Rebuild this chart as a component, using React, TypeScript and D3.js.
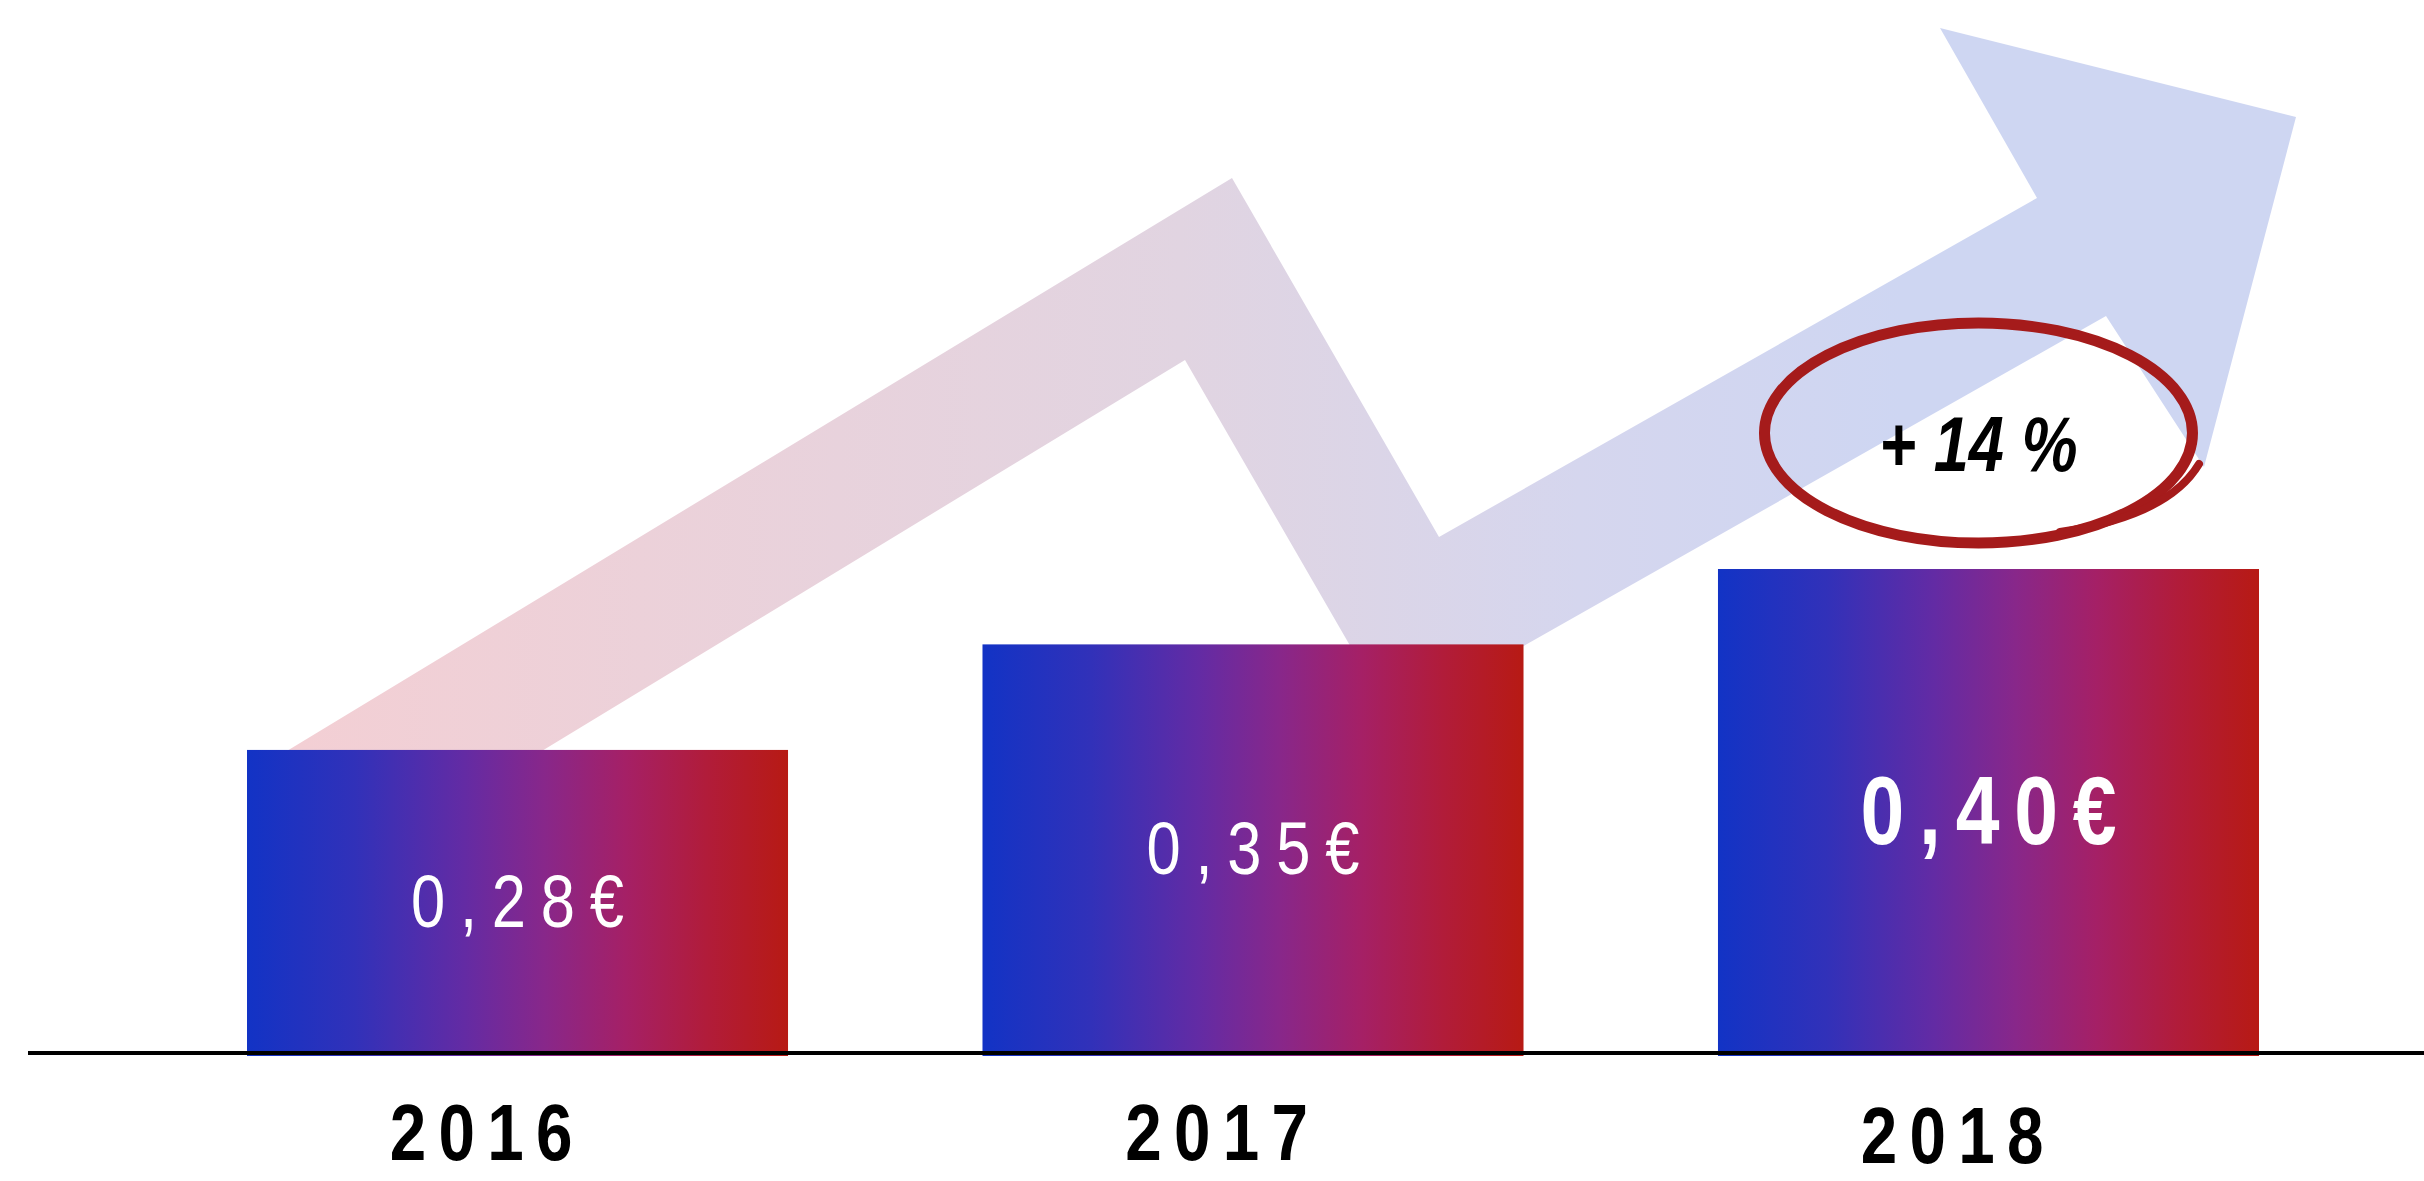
import React from 'react';
import * as d3 from 'd3';

// ---- data ----
const years: string[] = ['2016', '2017', '2018'];
const values: number[] = [0.28, 0.35, 0.4];
const valueLabels: string[] = ['0,28€', '0,35€', '0,40€'];
const growthLabel = '+ 14 %';

// ---- layout / style ----
const W = 2424;
const H = 1181;
const BASE_Y = 1053;
const FONT = '"Liberation Sans", Arial, sans-serif';
const NARROW = 0.82;
const valueFontSize = [75, 75, 96];
const valueWeight = [400, 400, 700];
const yearDy = [0, 0, 3];

// decorative trend arrow outline (pixel space)
const arrowOutline: [number, number][] = [
  [272, 760],
  [1232, 178],
  [1439, 537],
  [2037, 198],
  [1940, 28],
  [2296, 117],
  [2204, 467],
  [2106, 316],
  [1393, 720],
  [1185, 360],
  [527, 760],
];

export default function App() {
  const x = d3
    .scaleBand<string>()
    .domain(years)
    .range([247, 2259])
    .paddingInner(0.2644)
    .paddingOuter(0);
  const y = d3.scaleLinear().domain([0.079, 0.4]).range([BASE_Y, 569]);
  const bw = x.bandwidth();

  const arrowPath = (d3.line()(arrowOutline) || '') + 'Z';

  const last = years.length - 1;
  const lastCx = (x(years[last]) as number) + bw / 2;

  return (
    <svg
      width={W}
      height={H}
      viewBox={`0 0 ${W} ${H}`}
      style={{ position: 'absolute', left: 0, top: 0, display: 'block', background: '#fff' }}
    >
      <defs>
        <linearGradient id="barGrad" x1="0" y1="0" x2="1" y2="0">
          <stop offset="0%" stopColor="#1233c5" />
          <stop offset="20%" stopColor="#3131b9" />
          <stop offset="40%" stopColor="#632ba4" />
          <stop offset="55%" stopColor="#88278a" />
          <stop offset="70%" stopColor="#a52066" />
          <stop offset="85%" stopColor="#b11c3a" />
          <stop offset="100%" stopColor="#b71a14" />
        </linearGradient>
        <linearGradient id="arrowGrad" gradientUnits="userSpaceOnUse" x1="300" y1="0" x2="1900" y2="0">
          <stop offset="0%" stopColor="#f3cfd4" />
          <stop offset="55%" stopColor="#e1d4e1" />
          <stop offset="80%" stopColor="#d5d6ee" />
          <stop offset="100%" stopColor="#ced6f2" />
        </linearGradient>
      </defs>

      <rect x={0} y={0} width={W} height={H} fill="#fff" />

      {/* trend arrow */}
      <path d={arrowPath} fill="url(#arrowGrad)" />

      {/* bars */}
      {years.map((yr, i) => (
        <rect
          key={yr}
          x={x(yr)}
          y={y(values[i])}
          width={bw}
          height={BASE_Y + 3 - y(values[i])}
          fill="url(#barGrad)"
        />
      ))}

      {/* baseline */}
      <line x1={28} x2={W} y1={BASE_Y} y2={BASE_Y} stroke="#000" strokeWidth={4} />

      {/* value labels */}
      {years.map((yr, i) => {
        const cx = (x(yr) as number) + bw / 2;
        const cy = (y(values[i]) + BASE_Y) / 2;
        return (
          <g key={'v' + yr} transform={`translate(${cx},${cy}) scale(${NARROW},1)`}>
            <text
              textAnchor="middle"
              dominantBaseline="central"
              fill="#fff"
              fontFamily={FONT}
              fontSize={valueFontSize[i]}
              fontWeight={valueWeight[i]}
              letterSpacing={18}
              dx={9}
            >
              {valueLabels[i]}
            </text>
          </g>
        );
      })}

      {/* year labels */}
      {years.map((yr, i) => {
        const cx = (x(yr) as number) + bw / 2 - 36;
        return (
          <g key={'y' + yr} transform={`translate(${cx},${1160 + yearDy[i]}) scale(${NARROW},1)`}>
            <text
              textAnchor="middle"
              fill="#000"
              fontFamily={FONT}
              fontSize={80}
              fontWeight={700}
              letterSpacing={15}
              dx={7}
            >
              {yr}
            </text>
          </g>
        );
      })}

      {/* growth annotation */}
      <ellipse cx={lastCx - 10} cy={433} rx={214} ry={110} fill="none" stroke="#a51b1b" strokeWidth={11} />
      <path
        d="M 2199 464 Q 2168 516 2060 532"
        fill="none"
        stroke="#a51b1b"
        strokeWidth={8}
        strokeLinecap="round"
      />
      <g transform={`translate(${lastCx - 10},471) scale(${NARROW},1)`}>
        <text
          textAnchor="middle"
          fill="#000"
          fontFamily={FONT}
          fontSize={77}
          fontWeight={700}
          fontStyle="italic"
        >
          {growthLabel}
        </text>
      </g>
    </svg>
  );
}
